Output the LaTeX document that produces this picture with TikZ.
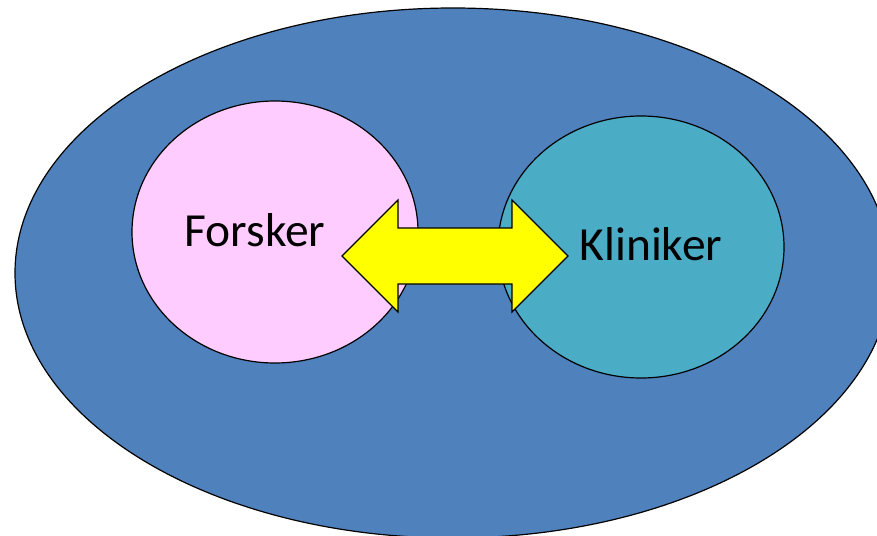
\documentclass[tikz,border=0pt]{standalone}
\usepackage{fontspec}
\setmainfont{Carlito}
\usetikzlibrary{shapes.geometric}
\definecolor{outerblue}{HTML}{4F81BD}
\definecolor{pinkfill}{HTML}{FFCCFF}
\definecolor{tealfill}{HTML}{4BACC6}
\definecolor{arrowyellow}{HTML}{FFFF00}
\tikzset{
  blob/.style={draw=black, line width=1.2pt},
  lbl/.style={font=\fontsize{47.5}{52}\selectfont, text=black, inner sep=0pt},
}
\begin{document}
\begin{tikzpicture}[x=1pt,y=-1pt]
\useasboundingbox (0,0) rectangle (877,535);
\clip (0,0) rectangle (877,535);
\draw[blob, fill=outerblue] (453,273) ellipse [x radius=438, y radius=265];
\node[blob, fill=pinkfill, ellipse, inner sep=0pt, minimum width=286pt, minimum height=262pt] (forsker) at (275,232) {};
\node[blob, fill=tealfill, ellipse, inner sep=0pt, minimum width=286pt, minimum height=262pt] (kliniker) at (641,247) {};
\draw[blob, fill=arrowyellow, line join=miter]
  (342,256) -- (398,200) -- (398,228) -- (512,228) -- (512,200) -- (568,256)
  -- (512,312) -- (512,284) -- (398,284) -- (398,312) -- cycle;
\node[lbl, anchor=base] (ftext) at (255,246) {Forsker};
\node[lbl, anchor=base] (ktext) at (651,260) {Kliniker};
\end{tikzpicture}
\end{document}
